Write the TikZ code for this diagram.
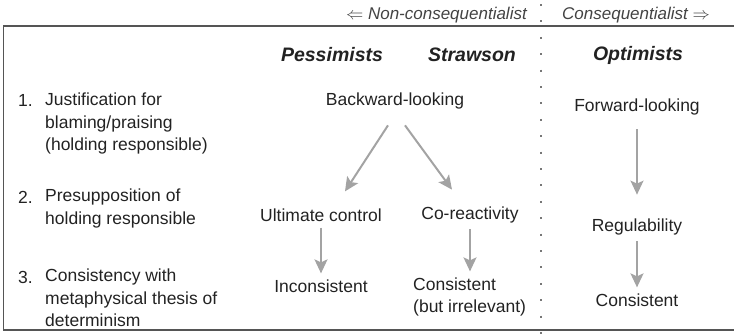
\documentclass[tikz,border=0pt]{standalone}
\usepackage{fontspec}
\setmainfont{Liberation Sans}
\usetikzlibrary{arrows.meta}
\definecolor{txt}{HTML}{222222}
\definecolor{frame}{HTML}{555555}
\definecolor{arrgray}{HTML}{A3A3A3}
\definecolor{dotgray}{HTML}{777777}
\tikzset{
  body/.style={font=\fontsize{17.5}{22.5}\selectfont, text=txt, inner sep=0pt},
  colhead/.style={font=\fontsize{19.5}{22}\selectfont\bfseries\itshape, text=txt, inner sep=0pt},
  toplabel/.style={font=\fontsize{17}{20}\selectfont\itshape, text=txt!85!white, inner sep=0pt},
  arr/.style={draw=arrgray, line width=2pt, -{Stealth[length=14pt,width=13pt,inset=3pt]}},
  frameline/.style={draw=frame, line width=1.8pt},
}
\begin{document}
\begin{tikzpicture}[x=1pt,y=-1pt]
\useasboundingbox (0,0) rectangle (734,335);
% frame
\draw[frameline] (734,26) -- (3.5,26) -- (3.5,330) -- (734,330);
% dotted separator
\draw[dotgray, line width=2pt, dash pattern=on 2pt off 14.4pt] (541,4) -- (541,335);
% top labels
\node[toplabel, anchor=east] (nc) at (527,15) {$\Leftarrow$ Non-consequentialist};
\node[toplabel, anchor=west] (cq) at (562,15) {Consequentialist $\Rightarrow$};
% column headings
\node[colhead] (pes) at (332,55) {Pessimists};
\node[colhead] (str) at (472,55) {Strawson};
\node[colhead] (opt) at (638,55) {Optimists};
% row labels
\node[body, anchor=west] (n1) at (18,100) {1.};
\node[body, anchor=west, align=left] (r1) at (45,123.5) {Justification for\\blaming/praising\\(holding responsible)};
\node[body, anchor=west] (n2) at (18,197) {2.};
\node[body, anchor=west, align=left] (r2) at (45,208.5) {Presupposition of\\holding responsible};
\node[body, anchor=west] (n3) at (18,277) {3.};
\node[body, anchor=west, align=left] (r3) at (45,298) {Consistency with\\metaphysical thesis of\\determinism};
% content nodes
\node[body] (bl) at (395,101) {Backward-looking};
\node[body] (fl) at (637,107) {Forward-looking};
\node[body] (uc) at (321,215) {Ultimate control};
\node[body] (cr) at (470,215) {Co-reactivity};
\node[body] (rg) at (637,227) {Regulability};
\node[body] (inc) at (321,286) {Inconsistent};
\node[body, anchor=west, align=left] (cn1) at (413,297) {Consistent\\(but irrelevant)};
\node[body] (cn2) at (637,300) {Consistent};
% arrows
\draw[arr] ([xshift=-7pt,yshift=-16pt]bl.south) -- ([xshift=24pt,yshift=17pt]uc.north);
\draw[arr] ([xshift=10pt,yshift=-16pt]bl.south) -- ([xshift=-18pt,yshift=17pt]cr.north);
\draw[arr] ([yshift=-6pt]uc.south) -- ([yshift=6pt]inc.north);
\draw[arr] ([yshift=-6pt]cr.south) -- ([yshift=6pt]cn1.north -| cr.south);
\draw[arr] ([yshift=-14pt]fl.south) -- ([yshift=24pt]rg.north);
\draw[arr] ([yshift=-6pt]rg.south) -- ([yshift=6pt]cn2.north);
\end{tikzpicture}
\end{document}
